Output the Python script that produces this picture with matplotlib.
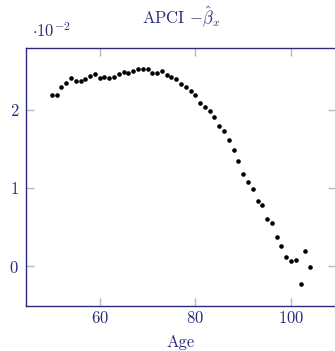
import numpy as np
import matplotlib
matplotlib.use('Agg')
import matplotlib.pyplot as plt

plt.rcParams['font.family'] = 'serif'
plt.rcParams['font.serif'] = ['cmr10']
plt.rcParams['mathtext.fontset'] = 'cm'
plt.rcParams['axes.formatter.use_mathtext'] = True

# values of -beta_x, in units of 1e-2
ages = list(range(50, 105))
beta = [2.18, 2.18, 2.29, 2.34, 2.40, 2.36, 2.36, 2.39, 2.43, 2.45,
        2.40, 2.42, 2.40, 2.42, 2.45, 2.48, 2.46, 2.49, 2.51, 2.51,
        2.51, 2.46, 2.46, 2.49, 2.44, 2.42, 2.39, 2.33, 2.29, 2.24,
        2.18, 2.08, 2.03, 1.98, 1.90, 1.79, 1.73, 1.61, 1.49, 1.34,
        1.18, 1.07, 0.99, 0.83, 0.78, 0.61, 0.56, 0.38, 0.26, 0.12,
        0.07, 0.08, -0.23, 0.20, -0.01]
xticks = [60, 80, 100]
yticks = [0, 1, 2]

navy = '#2b2b7a'
W, H = 335, 351
fs = 12

fig = plt.figure(figsize=(W / 100, H / 100), dpi=100)
ax = fig.add_axes([26 / W, 1 - 306 / H, (336 - 26) / W, (306 - 48) / H])

ax.plot(ages, beta, 'o', color='black', ms=3.3, mew=0)

# pgfplots-like enlarged limits
x = np.array(ages)
y = np.array(beta)
dx = (x.max() - x.min()) * 0.1
dy = (y.max() - y.min()) * 0.1
ax.set_xlim(x.min() - dx, x.max() + dx)
ax.set_ylim(y.min() - dy, y.max() + dy)

ax.set_xticks(xticks)
ax.set_yticks(yticks)
ax.tick_params(direction='in', length=6, width=1, color='#b8b8b8',
               labelcolor=navy, labelsize=fs, top=True, right=True)
ax.tick_params(axis='x', pad=3)
ax.tick_params(axis='y', pad=5)

for s in ax.spines.values():
    s.set_color(navy)
    s.set_linewidth(1.0)

ax.set_xlabel('Age', color=navy, fontsize=fs, labelpad=6)
ax.set_title(r'APCI $-\hat{\beta}_x$', color=navy, fontsize=fs, pad=17)
ax.text(0.02, 1.03, r'$\cdot 10^{-2}$', transform=ax.transAxes,
        color=navy, fontsize=fs, ha='left', va='bottom')

plt.savefig('out.png', dpi=100)
